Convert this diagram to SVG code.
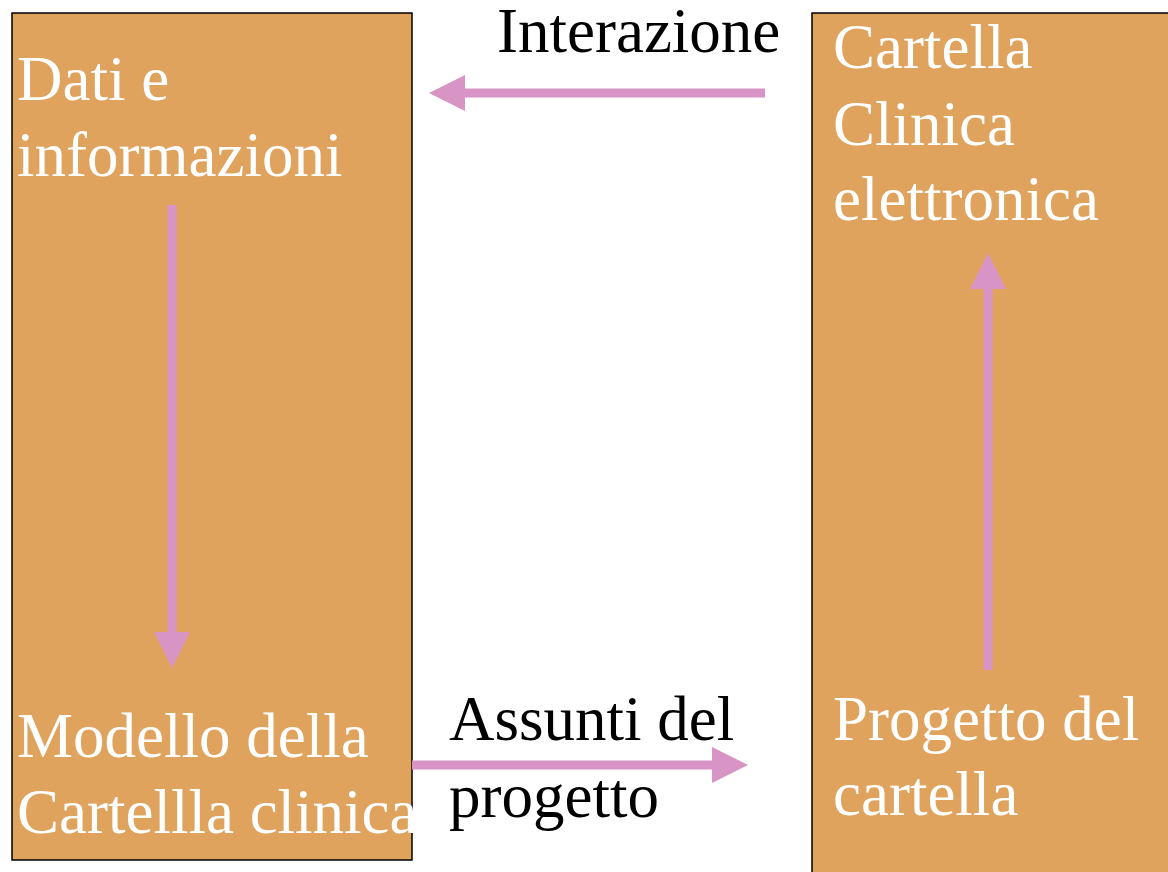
<svg xmlns="http://www.w3.org/2000/svg" width="1168" height="872" viewBox="0 0 1168 872">
<style>
.box{fill:#dfa35d;stroke:#000;stroke-width:1.5}
.wt{font-family:"Liberation Serif","Times New Roman",serif;font-size:63px;fill:#fff}
.bt{font-family:"Liberation Serif","Times New Roman",serif;font-size:63px;fill:#000}
.ln{stroke:#d894c4;stroke-width:9;fill:none}
.hd{fill:#d894c4}
</style>
<rect width="1168" height="872" fill="#fff"/>
<g id="node-left">
<rect class="box" x="12" y="13" width="400" height="847"/>
<text class="wt" x="17" y="100">Dati e</text>
<text class="wt" x="17" y="176">informazioni</text>
<text class="wt" x="17" y="757">Modello della</text>
<text class="wt" x="17" y="833">Cartellla clinica</text>
</g>
<g id="node-right">
<rect class="box" x="812" y="13" width="370" height="870"/>
<text class="wt" x="833" y="68">Cartella</text>
<text class="wt" x="833" y="145">Clinica</text>
<text class="wt" x="833" y="220">elettronica</text>
<text class="wt" x="833" y="740">Progetto del</text>
<text class="wt" x="833" y="815">cartella</text>
</g>
<g id="connectors">
<line class="ln" x1="765" y1="93" x2="462" y2="93"/>
<polygon class="hd" points="429,93 465,75 465,111"/>
<line class="ln" x1="172" y1="205" x2="172" y2="635"/>
<polygon class="hd" points="172,668 154,632 190,632"/>
<line class="ln" x1="988" y1="670" x2="988" y2="286"/>
<polygon class="hd" points="988,253 970,289 1006,289"/>
<line class="ln" x1="412" y1="765" x2="715" y2="765"/>
<polygon class="hd" points="748,765 712,747 712,783"/>
</g>
<g id="labels">
<text class="bt" x="497" y="52">Interazione</text>
<text class="bt" x="449" y="740">Assunti del</text>
<text class="bt" x="449" y="817">progetto</text>
</g>
</svg>
